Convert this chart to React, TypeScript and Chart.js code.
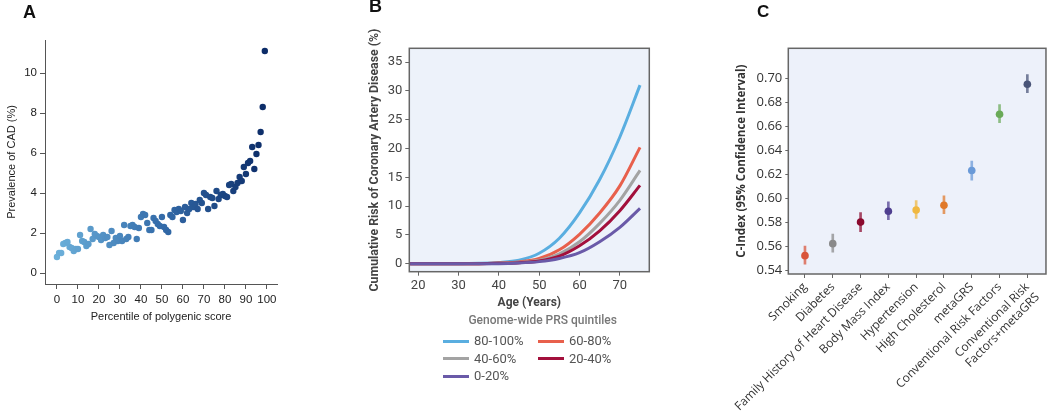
import React, { useEffect, useRef } from 'react';
import { Chart, registerables } from 'chart.js';
Chart.register(...registerables);

// ---------- Panel A data ----------
const prevalence = [
  0.8, 1.0, 1.0, 1.45, 1.5, 1.55, 1.3, 1.25, 1.1, 1.2,
  1.2, 1.9, 1.6, 1.55, 1.35, 1.45, 2.2, 1.7, 1.95, 1.85,
  1.8, 1.65, 1.9, 1.75, 1.8, 1.4, 2.1, 1.5, 1.75, 1.6,
  1.85, 1.6, 2.4, 1.7, 1.8, 2.35, 2.4, 2.3, 1.7, 2.25,
  2.8, 2.95, 2.9, 2.5, 2.15, 2.15, 2.75, 2.6, 2.45, 2.35,
  2.8, 2.3, 2.15, 2.05, 2.9, 2.8, 3.15, 3.05, 3.2, 3.1,
  2.65, 3.3, 3.0, 3.2, 3.5, 3.3, 3.45, 3.2, 3.65, 3.5,
  4.0, 3.9, 3.2, 3.8, 3.75, 3.35, 4.1, 3.7, 3.9, 3.95,
  3.85, 3.8, 4.4, 4.45, 4.1, 4.3, 4.5, 4.8, 4.6, 5.3,
  4.95, 5.5, 5.6, 6.3, 5.2, 5.95, 6.4, 7.05, 8.3, 11.1,
];
const xTicksA = [0, 10, 20, 30, 40, 50, 60, 70, 80, 90, 100];
const yTicksA = [0, 2, 4, 6, 8, 10];

// ---------- Panel B data ----------
const ages = [18, 20, 25, 30, 35, 40, 45, 50, 55, 60, 65, 70, 75];
const q80_100 = [0, 0, 0, 0, 0.05, 0.2, 0.6, 1.8, 4.4, 8.8, 14.6, 22.0, 31.0];
const q60_80 = [0, 0, 0, 0, 0, 0.1, 0.3, 0.9, 2.4, 5.1, 8.8, 13.5, 20.2];
const q40_60 = [0, 0, 0, 0, 0, 0.05, 0.2, 0.6, 1.7, 3.8, 7.0, 11.0, 16.2];
const q20_40 = [0, 0, 0, 0, 0, 0.05, 0.15, 0.45, 1.3, 3.1, 5.7, 9.2, 13.6];
const q0_20 = [0, 0, 0, 0, 0, 0, 0.1, 0.35, 0.9, 1.9, 3.8, 6.3, 9.6];
const quintileLabels = ['80-100%', '60-80%', '40-60%', '20-40%', '0-20%'];
const xTicksB = [20, 30, 40, 50, 60, 70];
const yTicksB = [0, 5, 10, 15, 20, 25, 30, 35];

// ---------- Panel C data ----------
const predictors = [
  'Smoking',
  'Diabetes',
  'Family History of Heart Disease',
  'Body Mass Index',
  'Hypertension',
  'High Cholesterol',
  'metaGRS',
  'Conventional Risk Factors',
  ['Conventional Risk', 'Factors+metaGRS'],
];
const cIndex = [0.552, 0.562, 0.58, 0.589, 0.59, 0.594, 0.623, 0.67, 0.695];
const ciLow = [0.545, 0.555, 0.572, 0.582, 0.583, 0.587, 0.615, 0.663, 0.688];
const ciHigh = [0.56, 0.57, 0.588, 0.597, 0.598, 0.602, 0.631, 0.678, 0.703];
const yTicksC = [0.54, 0.56, 0.58, 0.6, 0.62, 0.64, 0.66, 0.68, 0.7];

// ---------- styles ----------
const quintileColors = ['#5aaee0', '#e8604c', '#a3a3a3', '#a3103c', '#6a5aa8'];
const predictorColors = ['#d9553a', '#8a8a8a', '#8b0a2e', '#4f3f8f', '#f0b840', '#e07a2a', '#6a9ad8', '#6aaa58', '#4a5578'];

function mix(a: number[], b: number[], t: number) {
  return `rgb(${Math.round(a[0] + (b[0] - a[0]) * t)},${Math.round(a[1] + (b[1] - a[1]) * t)},${Math.round(a[2] + (b[2] - a[2]) * t)})`;
}
const c0 = [108, 176, 218];
const c1 = [52, 108, 170];
const c2 = [12, 44, 104];
const colorsA = prevalence.map((_, i) => {
  const t = i / (prevalence.length - 1);
  return t < 0.5 ? mix(c0, c1, t / 0.5) : mix(c1, c2, (t - 0.5) / 0.5);
});

const framePlugin = {
  id: 'frame',
  beforeDraw(chart: any, _a: any, opts: any) {
    if (!opts || !opts.fill) return;
    const { ctx, chartArea: a } = chart;
    ctx.save();
    ctx.fillStyle = opts.fill;
    ctx.fillRect(a.left, a.top, a.right - a.left, a.bottom - a.top);
    ctx.restore();
  },
  afterDraw(chart: any, _a: any, opts: any) {
    if (!opts || !opts.stroke) return;
    const { ctx, chartArea: a } = chart;
    ctx.save();
    ctx.strokeStyle = opts.stroke;
    ctx.lineWidth = opts.width || 1;
    ctx.strokeRect(a.left, a.top, a.right - a.left, a.bottom - a.top);
    ctx.restore();
  },
};

export default function App() {
  const refA = useRef<HTMLCanvasElement>(null);
  const refB = useRef<HTMLCanvasElement>(null);
  const refC = useRef<HTMLCanvasElement>(null);

  useEffect(() => {
    const fA = 'Liberation Sans';
    const chartA = new Chart(refA.current!, {
      type: 'scatter',
      data: {
        datasets: [
          {
            data: prevalence.map((y, x) => ({ x, y })),
            pointRadius: 3.2,
            pointBorderWidth: 0,
            pointBackgroundColor: colorsA,
          },
        ],
      },
      options: {
        responsive: false,
        animation: false,
        layout: { padding: { top: 40, right: 13, left: 0, bottom: 0 } },
        plugins: { legend: { display: false }, tooltip: { enabled: false } },
        scales: {
          x: {
            type: 'linear',
            min: -5.7,
            max: 104.8,
            afterBuildTicks: (s: any) => { s.ticks = xTicksA.map((v) => ({ value: v })); },
            afterFit: (s: any) => { s.height = 46; },
            grid: { drawOnChartArea: false, tickLength: 5, color: '#555' },
            border: { color: '#555', width: 1 },
            ticks: { font: { family: fA, size: 11.5 }, color: '#222', padding: 4, maxRotation: 0 },
            title: { display: true, text: 'Percentile of polygenic score', font: { family: fA, size: 11 }, color: '#222', padding: { top: 0, bottom: 6 } },
          },
          y: {
            type: 'linear',
            min: -0.55,
            max: 11.65,
            afterBuildTicks: (s: any) => { s.ticks = yTicksA.map((v) => ({ value: v })); },
            afterFit: (s: any) => { s.width = 45; },
            grid: { drawOnChartArea: false, tickLength: 5, color: '#555' },
            border: { color: '#555', width: 1 },
            ticks: { font: { family: fA, size: 11.5 }, color: '#222', padding: 3 },
            title: { display: true, text: 'Prevalence of CAD (%)', font: { family: fA, size: 11 }, color: '#222', padding: { top: 5, bottom: 0 } },
          },
        },
      },
    } as any);

    const fB = 'Roboto';
    const seriesB = [q80_100, q60_80, q40_60, q20_40, q0_20];
    const chartB = new Chart(refB.current!, {
      type: 'line',
      data: {
        datasets: seriesB.map((s, k) => ({
          label: quintileLabels[k],
          data: s.map((y, i) => ({ x: ages[i], y })),
          borderColor: quintileColors[k],
          borderWidth: 3,
          pointRadius: 0,
          cubicInterpolationMode: 'monotone',
        })).reverse(),
      },
      options: {
        responsive: false,
        animation: false,
        layout: { padding: { top: 48.3, right: 20.7, left: 0, bottom: 0 } },
        plugins: {
          legend: { display: false },
          tooltip: { enabled: false },
          frame: { fill: '#edf2fa', stroke: '#666', width: 1.5 },
        },
        scales: {
          x: {
            type: 'linear',
            min: 17.8,
            max: 77.3,
            afterBuildTicks: (s: any) => { s.ticks = xTicksB.map((v) => ({ value: v })); },
            afterFit: (s: any) => { s.height = 46.3; },
            grid: { drawOnChartArea: false, tickLength: 4, color: '#666' },
            border: { display: false },
            ticks: { font: { family: fB, size: 13 }, color: '#444', padding: 2, maxRotation: 0 },
            title: { display: true, text: 'Age (Years)', font: { family: fB, size: 12, weight: 'bold' }, color: '#444', padding: { top: 0, bottom: 8 } },
          },
          y: {
            type: 'linear',
            min: -1.4,
            max: 37.4,
            afterBuildTicks: (s: any) => { s.ticks = yTicksB.map((v) => ({ value: v })); },
            afterFit: (s: any) => { s.width = 59.3; },
            grid: { drawOnChartArea: false, tickLength: 4, color: '#666' },
            border: { display: false },
            ticks: { font: { family: fB, size: 13 }, color: '#444', padding: 3 },
            title: { display: true, text: 'Cumulative Risk of Coronary Artery Disease (%)', font: { family: fB, size: 12.3, weight: 'bold' }, color: '#444', padding: { top: 18, bottom: 0 } },
          },
        },
      },
      plugins: [framePlugin],
    } as any);

    const fC = 'Open Sans';
    const chartC = new Chart(refC.current!, {
      type: 'bar',
      data: {
        datasets: [
          {
            type: 'bar',
            data: predictors.map((_, i) => ({ x: i, y: [ciLow[i], ciHigh[i]] })),
            backgroundColor: predictorColors.map((c) => c + 'bb'),
            barThickness: 2,
            grouped: false,
          },
          {
            type: 'scatter',
            data: predictors.map((_, i) => ({ x: i, y: cIndex[i] })),
            pointRadius: 3.8,
            pointBorderWidth: 0,
            pointBackgroundColor: predictorColors,
          },
        ],
      },
      options: {
        responsive: false,
        animation: false,
        layout: { padding: { top: 48.3, right: 3.3, left: 0, bottom: 0 } },
        plugins: {
          legend: { display: false },
          tooltip: { enabled: false },
          frame: { fill: '#edf1fa', stroke: '#666', width: 1.5 },
        },
        scales: {
          x: {
            type: 'linear',
            min: -0.6,
            max: 8.67,
            offset: false,
            afterBuildTicks: (s: any) => { s.ticks = predictors.map((_, i) => ({ value: i })); },
            afterFit: (s: any) => { s.height = 143; },
            grid: { drawOnChartArea: false, tickLength: 4, color: '#666', offset: false },
            border: { display: false },
            ticks: {
              font: { family: fC, size: 12 },
              color: '#333',
              padding: 2,
              autoSkip: false,
              maxRotation: 45,
              minRotation: 45,
              callback: (_v: any, i: number) => predictors[i],
            },
          },
          y: {
            type: 'linear',
            min: 0.5367,
            max: 0.725,
            afterBuildTicks: (s: any) => { s.ticks = yTicksC.map((v) => ({ value: v })); },
            afterFit: (s: any) => { s.width = 88.3; },
            grid: { drawOnChartArea: false, tickLength: 3, color: '#666' },
            border: { display: false },
            ticks: { font: { family: fC, size: 13 }, color: '#333', padding: 3, callback: (v: any) => Number(v).toFixed(2) },
            title: { display: true, text: 'C-Index (95% Confidence Interval)', font: { family: fC, size: 11.5, weight: 'bold' }, color: '#333', padding: { top: 35, bottom: 0 } },
          },
        },
      },
      plugins: [framePlugin],
    } as any);

    return () => {
      chartA.destroy();
      chartB.destroy();
      chartC.destroy();
    };
  }, []);

  const abs = (l: number, t: number, extra: any = {}) => ({ position: 'absolute' as const, left: l, top: t, ...extra });
  const letter = { fontFamily: 'Liberation Sans', fontWeight: 'bold' as const, lineHeight: 1, color: '#111' };
  const legendText = { fontFamily: 'Roboto', fontSize: 13, color: '#555', lineHeight: '16px' };
  const legendRows = [
    [0, 1],
    [2, 3],
    [4],
  ];
  const rowY = [341, 358.5, 376];
  const colX = [443, 538];

  return (
    <div style={{ position: 'absolute', left: 0, top: 0, width: 1050, height: 417, background: '#fff', overflow: 'hidden' }}>
      <canvas ref={refA} width={290} height={330} style={abs(0, 0, { width: 290, height: 330 })} />
      <canvas ref={refB} width={320} height={318} style={abs(350, 0, { width: 320, height: 318 })} />
      <canvas ref={refC} width={350} height={417} style={abs(700, 0, { width: 350, height: 417 })} />
      <div style={abs(23, 3, { ...letter, fontSize: 18 })}>A</div>
      <div style={abs(369, -3, { ...letter, fontSize: 18 })}>B</div>
      <div style={abs(757, 3, { ...letter, fontSize: 17 })}>C</div>
      <div style={abs(542.7 - 100, 312, { width: 200, textAlign: 'center', fontFamily: 'Roboto', fontWeight: 500, fontSize: 12, color: '#777', lineHeight: '16px' })}>
        Genome-wide PRS quintiles
      </div>
      {legendRows.map((row, r) =>
        row.map((k, c) => (
          <div key={k} style={abs(colX[c], rowY[r] - 8, { display: 'flex', alignItems: 'center', height: 16 })}>
            <div style={{ width: 26, height: 3, background: quintileColors[k], marginRight: 5 }} />
            <span style={legendText}>{quintileLabels[k]}</span>
          </div>
        ))
      )}
    </div>
  );
}
